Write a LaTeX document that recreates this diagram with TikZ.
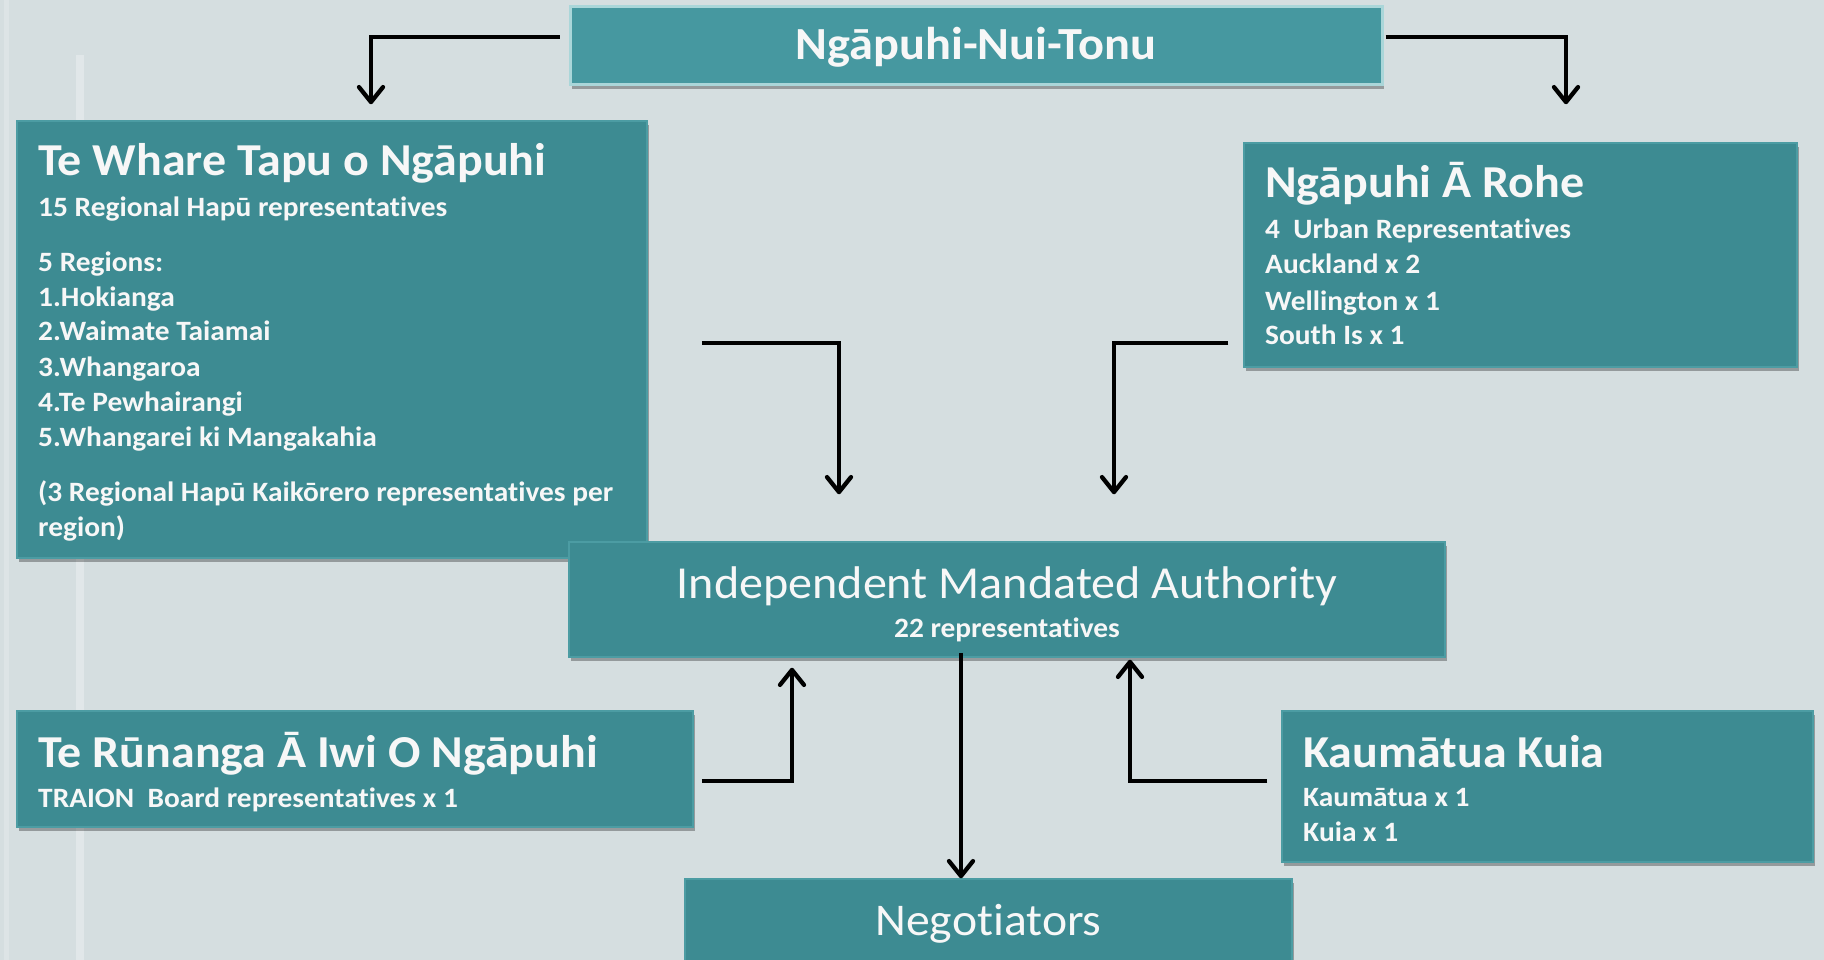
\documentclass[tikz,border=0pt]{standalone}
\usepackage{fontspec}
\setmainfont{Carlito}[FakeStretch=1.05, RawFeature={-liga;-clig;-dlig}]
\usetikzlibrary{arrows.meta,shadows,calc}
\definecolor{bgc}{HTML}{D5DEE0}
\definecolor{tealA}{HTML}{3D8B92}
\definecolor{tealB}{HTML}{4698A0}
\definecolor{edgeA}{HTML}{4C9CA3}
\definecolor{edgeB}{HTML}{AAD6D9}
\definecolor{txt}{HTML}{F7F7F7}
\tikzset{
  box/.style={fill=tealA, draw=edgeA, line width=1.5pt, inner sep=0pt,
    drop shadow={shadow xshift=1.5pt, shadow yshift=-4pt, opacity=0.3, fill=black}},
  topbox/.style={fill=tealB, draw=edgeB, line width=3pt, inner sep=0pt,
    drop shadow={shadow xshift=1.5pt, shadow yshift=-4pt, opacity=0.3, fill=black}},
  lbl/.style={text=txt, inner sep=0pt, anchor=base west},
  clbl/.style={text=txt, inner sep=0pt, anchor=base},
  ttl/.style={font=\fontsize{45.7}{52}\selectfont\bfseries},
  sml/.style={font=\fontsize{28}{32}\selectfont\bfseries},
  conn/.style={line width=4.3pt, line join=miter, -{Straight Barb[length=15pt,width=24pt,round]}},
}
\begin{document}
\begin{tikzpicture}[x=1pt,y=-1pt]
\useasboundingbox (0,0) rectangle (1824,960);
\fill[bgc] (0,0) rectangle (1824,960);
\fill[white, opacity=0.3] (76,55) rectangle (84,960);
\fill[white, opacity=0.2] (4,0) rectangle (9,960);

% boxes
\node[topbox, minimum width=812pt, minimum height=78pt] (top) at (976,46) {};
\node[box, minimum width=630pt, minimum height=437pt] (whare) at (332,339.5) {};
\node[box, minimum width=553pt, minimum height=224pt] (rohe) at (1520.5,255) {};
\node[box, minimum width=876pt, minimum height=115pt] (ima) at (1007,599.5) {};
\node[box, minimum width=676pt, minimum height=116pt] (runanga) at (355,769) {};
\node[box, minimum width=531pt, minimum height=151pt] (kaum) at (1547.5,786.5) {};
\node[box, minimum width=607pt, minimum height=111pt] (neg) at (988.5,934.5) {};

% texts
\node[clbl, font=\fontsize{46}{52}\selectfont\bfseries] (topT) at (976,60) {Ngāpuhi-Nui-Tonu};

\node[lbl, ttl] (whareT) at (38,176) {Te Whare Tapu o Ngāpuhi};
\node[lbl, sml] (w1) at (38,216.7) {15 Regional Hapū representatives};
\node[lbl, sml] (w2) at (38,271.7) {5 Regions:};
\node[lbl, sml] (w3) at (38,306) {1.Hokianga};
\node[lbl, sml] (w4) at (38,340.7) {2.Waimate Taiamai};
\node[lbl, sml] (w5) at (38,376) {3.Whangaroa};
\node[lbl, sml] (w6) at (38,411) {4.Te Pewhairangi};
\node[lbl, sml] (w7) at (38,446) {5.Whangarei ki Mangakahia};
\node[lbl, sml] (w8) at (38,501.7) {(3 Regional Hapū Kaikōrero representatives per};
\node[lbl, sml] (w9) at (38,536.7) {region)};

\node[lbl, ttl] (roheT) at (1265,198) {Ngāpuhi Ā Rohe};
\node[lbl, sml] (r1) at (1265,239) {4~~Urban Representatives};
\node[lbl, sml] (r2) at (1265,274) {Auckland x 2};
\node[lbl, sml] (r3) at (1265,310) {Wellington x 1};
\node[lbl, sml] (r4) at (1265,344) {South Is x 1};

\node[clbl, font=\fontsize{45.8}{52}\selectfont] (imaT) at (1007,598) {Independent Mandated Authority};
\node[clbl, sml] (ima1) at (1007,637) {22 representatives};

\node[lbl, ttl] (runT) at (38,767) {Te Rūnanga Ā Iwi O Ngāpuhi};
\node[lbl, sml] (run1) at (38,807) {TRAION~~Board representatives x 1};

\node[lbl, ttl] (kauT) at (1303,767) {Kaumātua Kuia};
\node[lbl, sml] (k1) at (1303,806) {Kaumātua x 1};
\node[lbl, sml] (k2) at (1303,841) {Kuia x 1};

\node[clbl, font=\fontsize{45.4}{52}\selectfont] (negT) at (988.5,935) {Negotiators};

% connectors
\draw[conn] ([shift={(-9pt,9pt)}]top.west) -| ([shift={(39pt,16pt)}]whare.north);
\draw[conn] ([shift={(2pt,9pt)}]top.east) -| ([shift={(45.5pt,38pt)}]rohe.north);
\draw[conn] ([shift={(54pt,-3.5pt)}]whare.east) -| ([shift={(-168pt,47pt)}]ima.north);
\draw[conn] ([shift={(-15pt,-88pt)}]rohe.west) -| ([shift={(107pt,47pt)}]ima.north);
\draw[conn] ([shift={(8pt,-12pt)}]runanga.east) -| ([shift={(-215pt,-10pt)}]ima.south);
\draw[conn] ([shift={(-14pt,5.5pt)}]kaum.west) -| ([shift={(123pt,-2pt)}]ima.south);
\draw[conn] ([shift={(-46pt,5pt)}]ima.south) -- ([shift={(-27.5pt,0pt)}]neg.north);
\end{tikzpicture}
\end{document}
